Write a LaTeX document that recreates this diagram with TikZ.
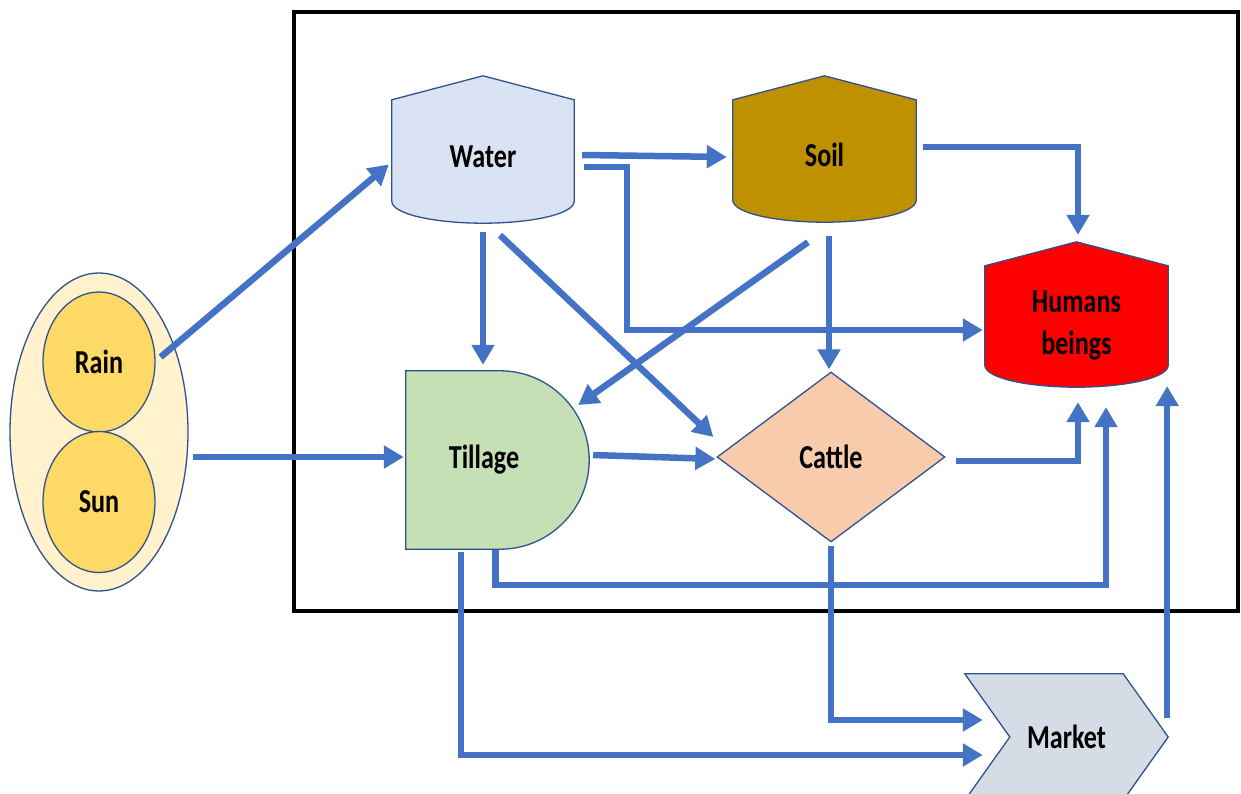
\documentclass[tikz,border=0pt]{standalone}
\usepackage{fontspec}
\setmainfont{Carlito}[FakeStretch=0.78]
\usepackage{tikz}
\usetikzlibrary{arrows.meta}
\usetikzlibrary{shapes.geometric}
\usetikzlibrary{calc}
\usetikzlibrary{backgrounds}
\usepackage{xcolor}

\definecolor{flowblue}{HTML}{4472C4}
\definecolor{edgeblue}{HTML}{2F528F}
\definecolor{waterfill}{HTML}{DAE3F3}
\definecolor{soilfill}{HTML}{BF9000}
\definecolor{humanfill}{HTML}{FF0000}
\definecolor{tillfill}{HTML}{C5E0B4}
\definecolor{cattlefill}{HTML}{F8CBAD}
\definecolor{marketfill}{HTML}{D6DCE5}
\definecolor{skyfill}{HTML}{FFF2CC}
\definecolor{ballfill}{HTML}{FFD966}

\newcommand{\tankoutline}[2]{%
  \draw[outline, fill=#2] (#1.north) -- ($(#1.north east)+(0,24)$)
    -- ($(#1.south east)+(0,-22)$) .. controls +(0,13) and +(48,0) .. (#1.south)
    .. controls +(-48,0) and +(0,13) .. ($(#1.south west)+(0,-22)$)
    -- ($(#1.north west)+(0,24)$) -- cycle;}

\begin{document}
\begin{tikzpicture}[x=1pt, y=-1pt,
    outline/.style={draw=edgeblue, line width=1.3pt},
    box/.style={font=\fontsize{33.5}{42}\selectfont\bfseries, align=center, inner sep=0pt},
    tank/.style={box, text height=36pt, text depth=0pt},
    flow/.style={draw=flowblue, line width=6.5pt, -{Triangle[length=20pt,width=22pt]}}]
      \useasboundingbox (0,0) rectangle (1241,794);
      \draw[line width=4pt] (294,12) rectangle (1238,611);

      \node[box, ellipse, outline, fill=skyfill, minimum width=178pt, minimum height=318pt] (weather) at (99,432) {};
      \node[box, ellipse, outline, fill=ballfill, minimum width=112pt, minimum height=140pt] (rain) at (99,362) {Rain};
      \node[box, ellipse, outline, fill=ballfill, minimum width=112pt, minimum height=141pt] (sun) at (99,502) {Sun};

      \node[tank, minimum width=182pt, minimum height=147pt] (water) at (483,149.5) {Water};
      \node[tank, minimum width=183pt, minimum height=146pt] (soil) at (824.5,149) {Soil};
      \node[box, minimum width=183pt, minimum height=145pt] (humans) at (1076.5,314.5)
        {\raisebox{-17pt}[0pt][0pt]{\begin{tabular}{@{}c@{}}Humans\\beings\end{tabular}}};
      \node[box, minimum width=183pt, minimum height=178pt] (tillage) at (497.5,460) {Tillage\hspace{27pt}};
      \node[box, diamond, outline, fill=cattlefill, minimum width=228pt, minimum height=170pt] (cattle) at (831,457) {Cattle};
      \node[box, minimum width=203pt, minimum height=126pt] (market) at (1066.5,737) {Market};

      \begin{scope}[on background layer]
        \tankoutline{water}{waterfill}
        \tankoutline{soil}{soilfill}
        \tankoutline{humans}{humanfill}
        \draw[outline, fill=tillfill] (tillage.north west) -- ($(tillage.north east)+(-89,0)$)
          .. controls +(49,0) and +(0,-49) .. (tillage.east)
          .. controls +(0,49) and +(49,0) .. ($(tillage.south east)+(-89,0)$)
          -- (tillage.south west) -- cycle;
        \draw[outline, fill=marketfill] (market.north west) -- ($(market.north east)+(-45,0)$)
          -- (market.east) -- ($(market.south east)+(-45,0)$) -- (market.south west)
          -- ($(market.west)+(45,0)$) -- cycle;
      \end{scope}

      \draw[flow] ($(rain.east)+(5,-5)$) -- ($(water.west)+(-3,15)$);
      \draw[flow] ($(weather.east)+(4,25)$) -- ($(tillage.west)+(-2,-3)$);

      \draw[flow] ($(water.east)+(8,5.5)$) -- ($(soil.west)+(-6,8)$);
      \draw[flow] ($(water.east)+(10,17.5)$) -- ++(43,0) |- ($(humans.west)+(-2,15.5)$);
      \draw[flow] ($(water.south)+(0,9)$) -- ($(tillage.north)+(-14.5,-6)$);
      \draw[flow] ($(water.south)+(17,12)$) -- ($(cattle.west)+(-3,-20)$);

      \draw[flow] ($(soil.east)+(7,-2)$) -| ($(humans.north)+(1.5,-7)$);
      \draw[flow] ($(soil.south)+(-16.5,20)$) -- ($(tillage.east)+(-11,-55)$);
      \draw[flow] ($(soil.south)+(4.5,14)$) -- ($(cattle.north)+(-2,-2)$);

      \draw[flow] ($(tillage.east)+(4,-5)$) -- ($(cattle.west)+(-1,2)$);
      \draw[flow] ($(cattle.east)+(10,4)$) -| ($(humans.south)+(1.5,15)$);
      \draw[flow] ($(tillage.south)+(-2,1)$) -- ++(0,35) -| ($(humans.south)+(29.5,20)$);
      \draw[flow] ($(market.east)+(-1,-19)$) -- ($(humans.south east)+(-1,-1)$);

      \draw[flow] ($(tillage.south)+(-36.5,3)$) |- ($(market.west)+(18,18)$);
      \draw[flow] ($(cattle.south)+(0,3)$) |- ($(market.west)+(18,-17)$);
\end{tikzpicture}
\end{document}
